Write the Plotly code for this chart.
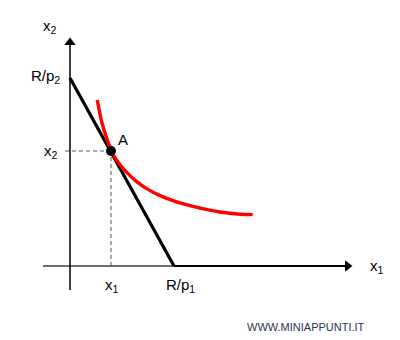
import plotly.graph_objects as go

# Data (units: origin at axes crossing)
R_p1 = 10.4          # x-intercept of budget line
R_p2 = 18.8          # y-intercept of budget line
A_x, A_y = 4.1, 11.5 # optimum point A

# Indifference curve sampled points
curve_x = [2.73, 3.2, 3.75, 4.4, 5.0, 5.67, 6.67, 7.67, 9.0, 10.67, 12.0, 13.0, 15.0, 17.0, 18.27]
curve_y = [16.6, 14.3, 12.54, 11.0, 10.13, 9.36, 8.44, 7.74, 7.04, 6.41, 6.04, 5.80, 5.40, 5.18, 5.14]

# Axis extents
x_axis_min, x_axis_max = -2.7, 28.2
y_axis_min, y_axis_max = -2.4, 22.8

fig = go.Figure()
FONT = "Liberation Sans, Arial, sans-serif"

# x-axis (grey part then black part)
fig.add_trace(go.Scatter(x=[x_axis_min, R_p1], y=[0, 0], mode="lines",
                         line=dict(color="#6e6e6e", width=2), hoverinfo="skip"))
fig.add_trace(go.Scatter(x=[R_p1, x_axis_max - 0.6], y=[0, 0], mode="lines",
                         line=dict(color="black", width=2), hoverinfo="skip"))
# y-axis
fig.add_trace(go.Scatter(x=[0, 0], y=[y_axis_min, y_axis_max - 0.6], mode="lines",
                         line=dict(color="black", width=1.5), hoverinfo="skip"))
# arrowheads
fig.add_trace(go.Scatter(x=[x_axis_max - 0.45], y=[0], mode="markers",
                         marker=dict(symbol="triangle-right", size=10, color="black"),
                         hoverinfo="skip"))
fig.add_trace(go.Scatter(x=[0], y=[y_axis_max - 0.45], mode="markers",
                         marker=dict(symbol="triangle-up", size=10, color="black"),
                         hoverinfo="skip"))

# dashed guides
fig.add_trace(go.Scatter(x=[-0.5, A_x], y=[A_y, A_y], mode="lines",
                         line=dict(color="#555555", width=1, dash="4px,3px"), hoverinfo="skip"))
fig.add_trace(go.Scatter(x=[A_x, A_x], y=[0, A_y], mode="lines",
                         line=dict(color="#555555", width=1, dash="4px,3px"), hoverinfo="skip"))

# budget line
fig.add_trace(go.Scatter(x=[0, R_p1], y=[R_p2, 0], mode="lines",
                         line=dict(color="black", width=3.2), hoverinfo="skip"))
# indifference curve
fig.add_trace(go.Scatter(x=curve_x, y=curve_y, mode="lines",
                         line=dict(color="#ff0000", width=3.4, shape="spline", smoothing=1.0),
                         hoverinfo="skip"))
# point A
fig.add_trace(go.Scatter(x=[A_x], y=[A_y], mode="markers",
                         marker=dict(color="black", size=10), hoverinfo="skip"))

ann = [
    dict(x=-2.0, y=24.0, text="x<sub>2</sub>", xanchor="center"),
    dict(x=-0.8, y=19.0, text="R/p<sub>2</sub>", xanchor="right"),
    dict(x=-1.0, y=A_y, text="x<sub>2</sub>", xanchor="right"),
    dict(x=5.3, y=12.7, text="A", xanchor="center"),
    dict(x=4.2, y=-1.9, text="x<sub>1</sub>", xanchor="center"),
    dict(x=11.0, y=-1.9, text="R/p<sub>1</sub>", xanchor="center"),
    dict(x=30.7, y=0.0, text="x<sub>1</sub>", xanchor="center"),
]
for a in ann:
    fig.add_annotation(x=a["x"], y=a["y"], text=a["text"], xanchor=a["xanchor"],
                       yanchor="middle", showarrow=False,
                       font=dict(family=FONT, size=15, color="black"))
fig.add_annotation(x=23.6, y=-6.1, text="WWW.MINIAPPUNTI.IT", showarrow=False,
                   xanchor="center", yanchor="middle",
                   font=dict(family=FONT, size=11, color="#2b3550"))

fig.update_layout(
    width=400, height=340, margin=dict(l=0, r=0, t=0, b=0),
    paper_bgcolor="white", plot_bgcolor="white", showlegend=False,
    xaxis=dict(range=[-7, 33], visible=False, fixedrange=True),
    yaxis=dict(range=[-7.4, 26.6], visible=False, fixedrange=True),
)
fig.write_html("out.html")
